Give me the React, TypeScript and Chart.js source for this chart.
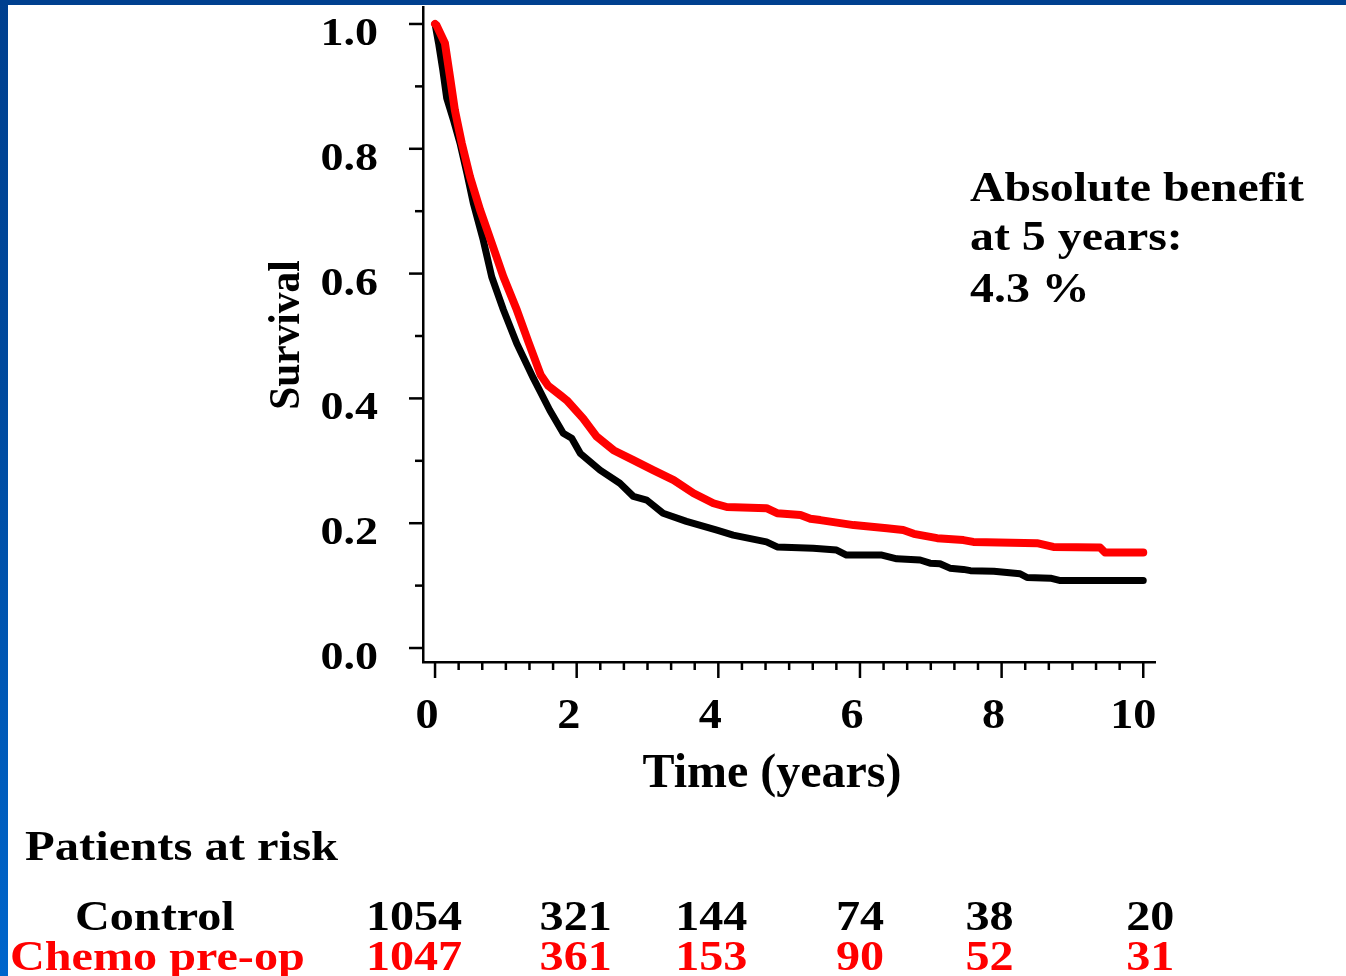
import React, { useEffect, useRef } from "react";
import { Chart, registerables } from "chart.js";

Chart.register(...registerables);

// ---- data ----
const controlTime = [0, 0.05, 0.11, 0.165, 0.26, 0.353, 0.45, 0.54, 0.68, 0.8, 0.965, 1.154, 1.39, 1.62, 1.81, 1.93, 2.05, 2.33, 2.61, 2.8, 2.99, 3.22, 3.55, 3.98, 4.21, 4.68, 4.83, 5.34, 5.67, 5.81, 6.31, 6.52, 6.85, 6.99, 7.13, 7.27, 7.46, 7.56, 7.89, 8.26, 8.36, 8.69, 8.83, 10.0];
const controlSurv = [1.0, 0.969, 0.926, 0.881, 0.846, 0.809, 0.761, 0.713, 0.654, 0.595, 0.542, 0.488, 0.432, 0.381, 0.344, 0.336, 0.312, 0.285, 0.264, 0.243, 0.237, 0.216, 0.203, 0.189, 0.181, 0.17, 0.162, 0.16, 0.157, 0.149, 0.149, 0.143, 0.141, 0.136, 0.135, 0.128, 0.126, 0.124, 0.123, 0.119, 0.113, 0.112, 0.108, 0.108];

const chemoTime = [0, 0.02, 0.14, 0.21, 0.28, 0.377, 0.494, 0.636, 0.8, 0.965, 1.154, 1.32, 1.49, 1.6, 1.77, 1.86, 2.09, 2.28, 2.52, 2.8, 3.08, 3.37, 3.65, 3.93, 4.12, 4.68, 4.83, 5.16, 5.3, 5.44, 5.91, 6.38, 6.61, 6.76, 7.09, 7.46, 7.6, 8.5, 8.73, 9.39, 9.46, 10.0];
const chemoSurv = [1.0, 0.998, 0.969, 0.916, 0.862, 0.809, 0.755, 0.702, 0.649, 0.595, 0.542, 0.49, 0.438, 0.42, 0.405, 0.397, 0.368, 0.339, 0.317, 0.301, 0.285, 0.269, 0.248, 0.232, 0.226, 0.224, 0.216, 0.213, 0.207, 0.205, 0.197, 0.192, 0.189, 0.183, 0.176, 0.173, 0.17, 0.168, 0.162, 0.161, 0.153, 0.153];

const xMajorTicks = [0, 2, 4, 6, 8, 10];
const xTickLabels = ["0", "2", "4", "6", "8", "10"];
const yMajorTicks = [0, 0.2, 0.4, 0.6, 0.8, 1.0];
const yTickLabels = ["0.0", "0.2", "0.4", "0.6", "0.8", "1.0"];
const yMinorTicks = [0.1, 0.3, 0.5, 0.7, 0.9];
const xMinorStep = 1 / 3;

const riskTimes = [0, 2, 4, 6, 8, 10];
const controlRisk = [1054, 321, 144, 74, 38, 20];
const chemoRisk = [1047, 361, 153, 90, 52, 31];

const seriesNames = ["Control", "Chemo pre-op"];
const annotationLines = ["Absolute benefit", "at 5 years:", "4.3 %"];

// ---- layout / style ----
const W = 1346;
const H = 976;
const FONT = "'Liberation Serif', 'Times New Roman', serif";
const RED = "#ff0000";
const BLACK = "#000000";
const riskColumnNudge = [-21, -1, -7, 0, -12, 7];

function drawText(
  ctx: CanvasRenderingContext2D,
  text: string,
  x: number,
  y: number,
  size: number,
  sx: number,
  align: CanvasTextAlign,
  color: string,
  rotate = 0
) {
  ctx.save();
  ctx.font = `bold ${size}px ${FONT}`;
  ctx.fillStyle = color;
  ctx.textAlign = align;
  ctx.textBaseline = "alphabetic";
  ctx.translate(x, y);
  if (rotate) ctx.rotate(rotate);
  ctx.scale(sx, 1);
  ctx.fillText(text, 0, 0);
  ctx.restore();
}

const decorPlugin = {
  id: "decor",
  afterDraw(chart: any) {
    const ctx: CanvasRenderingContext2D = chart.ctx;
    const xs = chart.scales.x;
    const ys = chart.scales.y;
    const area = chart.chartArea;
    ctx.save();
    ctx.strokeStyle = BLACK;
    ctx.lineWidth = 2.5;
    ctx.lineCap = "butt";
    // x ticks
    for (let k = 0; k <= 30; k++) {
      const v = k * xMinorStep;
      const px = xs.getPixelForValue(v);
      const major = k % 6 === 0;
      ctx.beginPath();
      ctx.moveTo(px, area.bottom);
      ctx.lineTo(px, area.bottom + (major ? 16 : 8));
      ctx.stroke();
    }
    // y ticks
    yMajorTicks.forEach((v) => {
      const py = ys.getPixelForValue(v);
      ctx.beginPath();
      ctx.moveTo(area.left - 14, py);
      ctx.lineTo(area.left, py);
      ctx.stroke();
    });
    yMinorTicks.forEach((v) => {
      const py = ys.getPixelForValue(v);
      ctx.beginPath();
      ctx.moveTo(area.left - 8, py);
      ctx.lineTo(area.left, py);
      ctx.stroke();
    });
    ctx.restore();

    // tick labels
    yMajorTicks.forEach((v, i) => {
      const py = ys.getPixelForValue(v);
      drawText(ctx, yTickLabels[i], area.left - 45, py + 21, 40, 1.15, "right", BLACK);
    });
    xMajorTicks.forEach((v, i) => {
      const px = xs.getPixelForValue(v);
      drawText(ctx, xTickLabels[i], px - (i === 5 ? 10 : 8), 728, 42, 1.1, "center", BLACK);
    });

    // axis titles
    drawText(ctx, "Survival", 299, 335, 44, 0.94, "center", BLACK, -Math.PI / 2);
    drawText(ctx, "Time (years)", 772, 787, 48, 1.0, "center", BLACK);

    // annotation
    const aBase = [201, 250, 302];
    annotationLines.forEach((t, i) => drawText(ctx, t, 970, aBase[i], 42, 1.14, "left", BLACK));

    // patients at risk table
    drawText(ctx, "Patients at risk", 25, 860, 43, 1.13, "left", BLACK);
    drawText(ctx, seriesNames[0], 75, 930, 43, 1.12, "left", BLACK);
    drawText(ctx, seriesNames[1], 10, 970, 43, 1.12, "left", RED);
    riskTimes.forEach((t, i) => {
      const px = xs.getPixelForValue(t) + riskColumnNudge[i];
      drawText(ctx, String(controlRisk[i]), px, 930, 43, 1.12, "center", BLACK);
      drawText(ctx, String(chemoRisk[i]), px, 970, 43, 1.12, "center", RED);
    });
  },
};

export default function App() {
  const canvasRef = useRef<HTMLCanvasElement | null>(null);

  useEffect(() => {
    if (!canvasRef.current) return;
    const chart = new Chart(canvasRef.current, {
      type: "line",
      data: {
        datasets: [
          {
            label: seriesNames[1],
            data: chemoTime.map((t, i) => ({ x: t, y: chemoSurv[i] })),
            borderColor: RED,
            backgroundColor: RED,
            borderWidth: 8,
            pointRadius: 0,
            tension: 0,
            borderCapStyle: "round",
            borderJoinStyle: "round",
            fill: false,
          },
          {
            label: seriesNames[0],
            data: controlTime.map((t, i) => ({ x: t, y: controlSurv[i] })),
            borderColor: BLACK,
            backgroundColor: BLACK,
            borderWidth: 7,
            pointRadius: 0,
            tension: 0,
            borderCapStyle: "round",
            borderJoinStyle: "round",
            fill: false,
          },
        ],
      },
      options: {
        responsive: false,
        animation: false,
        devicePixelRatio: 1,
        layout: { padding: { left: 0, top: 7, right: 190, bottom: 0 } },
        plugins: {
          legend: { display: false },
          tooltip: { enabled: false },
          title: { display: false },
        },
        scales: {
          x: {
            type: "linear",
            position: "bottom",
            min: -0.17,
            max: 10.18,
            grid: { display: true, drawOnChartArea: false, drawTicks: false, lineWidth: 0 },
            border: { display: true, color: BLACK, width: 2.5 },
            ticks: { display: false },
            afterFit: (s: any) => {
              s.height = 314;
            },
          },
          y: {
            type: "linear",
            position: "left",
            min: -0.0224,
            max: 1.0272,
            grid: { display: true, drawOnChartArea: false, drawTicks: false, lineWidth: 0 },
            border: { display: true, color: BLACK, width: 2.5 },
            ticks: { display: false },
            afterFit: (s: any) => {
              s.width = 423;
            },
          },
        },
      },
      plugins: [decorPlugin],
    } as any);
    return () => chart.destroy();
  }, []);

  return (
    <div style={{ position: "fixed", left: 0, top: 0, width: W, height: H, background: "#ffffff", overflow: "hidden" }}>
      <canvas ref={canvasRef} width={W} height={H} style={{ position: "absolute", left: 0, top: 0, width: W, height: H }} />
      <div style={{ position: "absolute", left: 0, top: 0, width: W, height: 5, background: "#00408f" }} />
      <div
        style={{
          position: "absolute",
          left: 0,
          top: 0,
          width: 8,
          height: H,
          background: "linear-gradient(to bottom, #00408f 0%, #004a9e 40%, #0066cc 100%)",
        }}
      />
    </div>
  );
}
